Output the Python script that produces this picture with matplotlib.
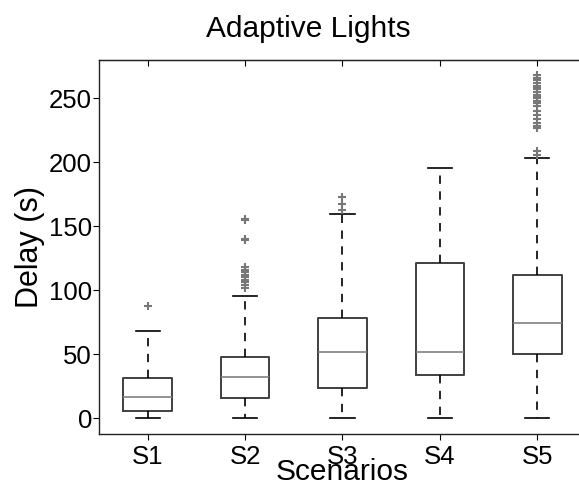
import matplotlib
matplotlib.use("Agg")
import matplotlib.pyplot as plt

# ================================== DADOS ==================================

cenarios = ["S1", "S2", "S3", "S4", "S5"]
whisker_baixo = [0, 0, 0, 0, 0]
q1 = [5.2, 16, 23.7, 33.6, 50]
mediana = [16.1, 32.3, 51.3, 51.8, 74.5]
q3 = [31.5, 47.9, 78.4, 121.3, 112]
whisker_alto = [68.2, 95.6, 159.9, 195.8, 203.4]
outliers = [
    [87.7],
    [102, 104, 106, 108, 110, 112, 114, 116, 118, 139, 140, 155, 156],
    [162.5, 167.5, 172.5],
    [],
    [206, 209, 227, 228, 231, 234, 237, 240, 244, 246, 248, 250, 252,
     253, 255, 257, 258, 260, 262, 264, 266, 268],
]

# ================================== GRÁFICO ==================================

plt.rcParams["font.family"] = ["Liberation Sans", "DejaVu Sans"]

fig = plt.figure(figsize=(5.79, 4.84), dpi=100)
ax = fig.add_axes([99 / 579, 50 / 484, 487 / 579, 374 / 484])

stats = []
for i, nome in enumerate(cenarios):
    stats.append({
        "label": nome,
        "whislo": whisker_baixo[i],
        "q1": q1[i],
        "med": mediana[i],
        "q3": q3[i],
        "whishi": whisker_alto[i],
        "fliers": outliers[i],
    })

ax.bxp(
    stats, widths=0.5,
    boxprops=dict(color="#404040", linewidth=1.4),
    medianprops=dict(color="#808080", linewidth=1.2),
    whiskerprops=dict(color="black", linewidth=1.2, linestyle=(0, (5, 4.5))),
    capprops=dict(color="black", linewidth=1.2),
    flierprops=dict(marker="+", markeredgecolor="#777777", markersize=6,
                    markeredgewidth=1.5, linestyle="none"),
)

ax.set_xlim(0.5, 5.5)
ax.set_ylim(-12.5, 280)
ax.set_yticks([0, 50, 100, 150, 200, 250])

for spine in ax.spines.values():
    spine.set_color("#222222")
    spine.set_linewidth(1.0)

ax.tick_params(axis="both", labelsize=18.5, direction="out", length=4, width=0.8)
ax.tick_params(axis="y", pad=1)
ax.tick_params(axis="x", pad=4)

# ticks do topo apontando para dentro
topo = ax.secondary_xaxis("top")
topo.set_xticks(range(1, 6))
topo.tick_params(direction="in", length=4, width=0.8, labeltop=False)

ax.set_xlabel("Scenarios", fontsize=21.5, va="baseline")
ax.xaxis.set_label_coords(0.5, -0.123)
ax.set_ylabel("Delay (s)", fontsize=22)
ax.yaxis.set_label_coords(-0.11, 0.5)

fig.text(308 / 579, 1 - 37 / 484, "Adaptive Lights", fontsize=21.5,
         ha="center", va="baseline")

fig.savefig("out.png", dpi=100)
